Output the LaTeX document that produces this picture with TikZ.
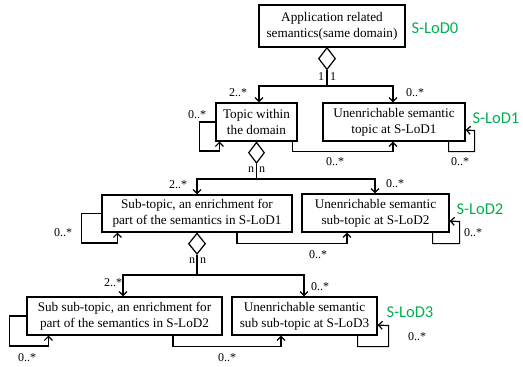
\documentclass[tikz,border=0pt]{standalone}
\usepackage{fontspec}
\setmainfont{Liberation Serif}
\newfontfamily\lodfont{Carlito}
\usetikzlibrary{arrows.meta,shapes.geometric}
\definecolor{lodgreen}{RGB}{0,176,80}
\begin{document}
\begin{tikzpicture}[x=1pt,y=-1pt,
  box/.style={draw,line width=1.2pt,inner sep=0pt,align=center,
    font=\fontsize{13.2}{16}\selectfont},
  dia/.style={draw,diamond,line width=1.2pt,inner sep=0pt,fill=white},
  arr/.style={line width=1.2pt,-{Straight Barb[length=4pt,width=8pt,line width=1.2pt]}},
  ln/.style={line width=1.2pt},
  lbl/.style={font=\fontsize{12}{12}\selectfont,inner sep=0pt},
  lod/.style={font=\lodfont\fontsize{16.5}{16.5}\selectfont,text=lodgreen,inner sep=0pt}]
\useasboundingbox (0,0) rectangle (523,367);
% boxes
\node[box,minimum width=146pt,minimum height=42pt] (b0) at (332,26) {Application related\\semantics(same domain)};
\node[box,minimum width=81pt,minimum height=38pt] (b1) at (256.5,122) {Topic within\\the domain};
\node[box,minimum width=142pt,minimum height=38pt] (b2) at (394,122) {Unenrichable semantic\\topic at S-LoD1};
\node[box,minimum width=190pt,minimum height=37pt] (b3) at (197,213.5) {Sub-topic, an enrichment for\\part of the semantics in S-LoD1};
\node[box,minimum width=147pt,minimum height=38pt] (b4) at (375.5,213) {Unenrichable semantic\\sub-topic at S-LoD2};
\node[box,minimum width=195pt,minimum height=38pt] (b5) at (124.5,316) {Sub sub-topic, an enrichment for\\part of the semantics in S-LoD2};
\node[box,minimum width=145pt,minimum height=38pt] (b6) at (304.5,316) {Unenrichable semantic\\sub sub-topic at S-LoD3};
% diamonds
\node[dia,minimum width=17pt,minimum height=22pt,anchor=north] (d0) at (327,47) {};
\node[dia,minimum width=16pt,minimum height=21pt,anchor=north] (d1) at (b1.south) {};
\node[dia,minimum width=17pt,minimum height=21pt,anchor=north] (d2) at (b3.south) {};
% junctions
\coordinate (j0) at (327,86);
\coordinate (j1) at (256.5,179);
\coordinate (j2) at (197,275);
% level 0 -> 1
\draw[ln] (d0.south) -- (j0);
\draw[arr] (j0) -| ([xshift=2.5pt]b1.north);
\draw[arr] (j0) -| ([xshift=-1pt]b2.north);
\node[lbl] (n01) at (321,77) {1};
\node[lbl] (n02) at (333,77) {1};
\node[lbl] (m01) at (238,93) {2..*};
\node[lbl] (m02) at (415,93) {0..*};
% level 1 loops
\draw[arr] (b1.west) -| ++(-16,29) -| ([xshift=4pt]b1.south west);
\node[lbl] (m11) at (197,115) {0..*};
\draw[arr] ([xshift=-5pt]b1.south east) |- ([xshift=-1pt,yshift=-10pt]b2.south) -- ([xshift=-1pt]b2.south);
\node[lbl] (m12) at (335,162) {0..*};
\draw[arr] ([xshift=-17pt]b2.south east) -- ++(0,10) -| ++(26,-21) -- ([yshift=-8pt]b2.east);
\node[lbl] (m13) at (460,162) {0..*};
% level 1 -> 2
\draw[ln] (d1.south) -- (j1);
\draw[arr] (j1) -| (b3.north);
\draw[arr] (j1) -| ([xshift=-0.5pt]b4.north);
\node[lbl] (n11) at (251,170) {n};
\node[lbl] (n12) at (262,170) {n};
\node[lbl] (m21) at (178,185) {2..*};
\node[lbl] (m22) at (395,184) {0..*};
% level 2 loops
\draw[arr] (b3.west) -| ++(-20,29.5) -| ([xshift=16pt]b3.south west);
\node[lbl] (m31) at (63,233) {0..*};
\draw[arr] ([xshift=40pt]b3.south) |- ([xshift=-28.5pt,yshift=-11pt]b4.south) -- ([xshift=-28.5pt]b4.south);
\node[lbl] (m32) at (318,255) {0..*};
\draw[arr] ([xshift=-17pt]b4.south east) -- ++(0,11) -| ++(27,-22) -- ([yshift=-8pt]b4.east);
\node[lbl] (m33) at (473,233) {0..*};
% level 2 -> 3
\draw[ln] (d2.south) -- (j2);
\draw[arr] (j2) -| ([xshift=-1.5pt]b5.north);
\draw[arr] (j2) -| ([xshift=-0.5pt]b6.north);
\node[lbl] (n21) at (192,261) {n};
\node[lbl] (n22) at (203,261) {n};
\node[lbl] (m41) at (113,283) {2..*};
\node[lbl] (m42) at (320,287) {0..*};
% level 3 loops
\draw[arr] (b5.west) -| ++(-17,30) -| ([xshift=22pt]b5.south west);
\node[lbl] (m51) at (27,358) {0..*};
\draw[arr] ([xshift=48.5pt]b5.south) |- ([xshift=-23.5pt,yshift=-11pt]b6.south) -- ([xshift=-23.5pt]b6.south);
\node[lbl] (m52) at (227,358) {0..*};
\draw[arr] ([xshift=-20pt]b6.south east) -- ++(0,11) -| ++(31,-21) -- ([yshift=-9pt]b6.east);
\node[lbl] (m53) at (417,337) {0..*};
% level labels
\node[lod] (s0) at (435,28.5) {S-LoD0};
\node[lod] (s1) at (496,118) {S-LoD1};
\node[lod] (s2) at (480,209) {S-LoD2};
\node[lod] (s3) at (410,312) {S-LoD3};
\end{tikzpicture}
\end{document}
